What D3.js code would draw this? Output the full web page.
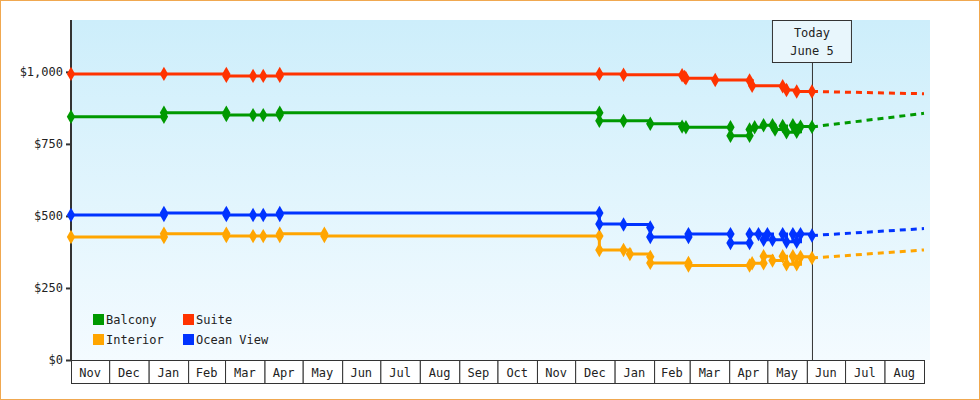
<!DOCTYPE html>
<html><head><meta charset="utf-8">
<script src="https://cdn.jsdelivr.net/npm/d3@7"></script>
<style>body{margin:0;background:#fff}text{font-family:"DejaVu Sans Mono",monospace;font-size:12px;fill:#222}</style>
</head><body><svg width="980" height="400"></svg>
<script>
const yTicks = [0, 250, 500, 750, 1000];
const today = "2025-06-05";
const forecastEnd = "2025-09-01";
const seriesNames = ["Balcony", "Suite", "Interior", "Ocean View"];
const colors = { "Balcony": "#009900", "Suite": "#ff3300", "Interior": "#ffa500", "Ocean View": "#0033ff" };

const suite = [
  ["2023-11-01", 993], ["2024-01-13", 993], ["2024-03-02", 993], ["2024-03-02", 986], ["2024-03-23", 986],
  ["2024-03-31", 986], ["2024-04-13", 986], ["2024-04-13", 993], ["2024-12-20", 993], ["2025-01-08", 990],
  ["2025-02-23", 988], ["2025-02-25", 982], ["2025-02-26", 978], ["2025-03-21", 972], ["2025-04-17", 970],
  ["2025-04-19", 952], ["2025-05-13", 950], ["2025-05-16", 937], ["2025-05-24", 932], ["2025-06-05", 932]];
const balcony = [
  ["2023-11-01", 844], ["2024-01-13", 844], ["2024-01-13", 858], ["2024-03-02", 858], ["2024-03-02", 850],
  ["2024-03-23", 850], ["2024-03-31", 850], ["2024-04-13", 850], ["2024-04-13", 858], ["2024-12-20", 858],
  ["2024-12-20", 830], ["2025-01-08", 830], ["2025-01-29", 820], ["2025-02-23", 810], ["2025-02-26", 808],
  ["2025-04-02", 808], ["2025-04-02", 778], ["2025-04-17", 778], ["2025-04-17", 800], ["2025-04-21", 808],
  ["2025-04-28", 815], ["2025-05-05", 815], ["2025-05-07", 800], ["2025-05-13", 812], ["2025-05-16", 790],
  ["2025-05-21", 815], ["2025-05-24", 792], ["2025-05-27", 810], ["2025-06-05", 809]];
const oceanView = [
  ["2023-11-01", 503], ["2024-01-13", 503], ["2024-01-13", 510], ["2024-03-02", 510], ["2024-03-02", 503],
  ["2024-03-23", 503], ["2024-03-31", 503], ["2024-04-13", 503], ["2024-04-13", 510], ["2024-12-20", 510],
  ["2024-12-20", 472], ["2025-01-08", 470], ["2025-01-29", 460], ["2025-01-29", 427], ["2025-02-28", 427],
  ["2025-02-28", 437], ["2025-04-02", 437], ["2025-04-02", 406], ["2025-04-17", 406], ["2025-04-17", 437],
  ["2025-04-24", 437], ["2025-04-28", 417], ["2025-05-01", 437], ["2025-05-05", 417], ["2025-05-13", 437],
  ["2025-05-16", 410], ["2025-05-21", 437], ["2025-05-24", 410], ["2025-05-27", 437], ["2025-06-05", 432]];
const interior = [
  ["2023-11-01", 427], ["2024-01-13", 427], ["2024-01-13", 438], ["2024-03-02", 438], ["2024-03-02", 430],
  ["2024-03-23", 430], ["2024-03-31", 430], ["2024-04-13", 430], ["2024-04-13", 438], ["2024-05-18", 438],
  ["2024-05-18", 430], ["2024-12-20", 430], ["2024-12-20", 382], ["2025-01-08", 382], ["2025-01-13", 368],
  ["2025-01-29", 358], ["2025-01-29", 337], ["2025-02-28", 337], ["2025-02-28", 328], ["2025-04-17", 328],
  ["2025-04-19", 336], ["2025-04-28", 336], ["2025-04-28", 360], ["2025-05-05", 345], ["2025-05-13", 360],
  ["2025-05-16", 332], ["2025-05-21", 360], ["2025-05-24", 332], ["2025-05-27", 358], ["2025-06-05", 354]];
const forecast = { "Balcony": 856, "Suite": 924, "Interior": 382, "Ocean View": 456 };
const data = { "Balcony": balcony, "Suite": suite, "Interior": interior, "Ocean View": oceanView };

const parse = d3.timeParse("%Y-%m-%d");
const svg = d3.select("svg");
const pLeft = 71, pRight = 930, pTop = 20, pBottom = 360;
const x = d3.scaleTime().domain([parse("2023-11-01"), parse(forecastEnd)]).range([pLeft, 924]);
const y = d3.scaleLinear().domain([0, 1180]).range([pBottom, pTop]);

svg.append("rect").attr("x", 0.5).attr("y", 0.5).attr("width", 979).attr("height", 399)
  .attr("fill", "#fff").attr("stroke", "#f0a850");

const grad = svg.append("defs").append("linearGradient").attr("id", "bg")
  .attr("x1", 0).attr("y1", 0).attr("x2", 0).attr("y2", 1);
grad.append("stop").attr("offset", 0).attr("stop-color", "#cdeefb");
grad.append("stop").attr("offset", 1).attr("stop-color", "#f4fbff");
svg.append("rect").attr("x", pLeft).attr("y", pTop).attr("width", pRight - pLeft).attr("height", pBottom - pTop)
  .attr("fill", "url(#bg)");

// month boxes
const months = d3.timeMonth.range(parse("2023-11-01"), parse(forecastEnd));
const mg = svg.append("g");
mg.selectAll("rect").data(months).join("rect")
  .attr("x", d => x(d) + 0.5).attr("y", pBottom + 0.5)
  .attr("width", d => x(d3.timeMonth.offset(d, 1)) - x(d)).attr("height", 23)
  .attr("fill", "#fff").attr("stroke", "#333");
mg.selectAll("text").data(months).join("text")
  .attr("x", d => (x(d) + x(d3.timeMonth.offset(d, 1))) / 2).attr("y", pBottom + 17)
  .attr("text-anchor", "middle").text(d3.timeFormat("%b"));

// y axis
const yAxis = svg.append("g").attr("transform", `translate(${pLeft},0)`)
  .call(d3.axisLeft(y).tickValues(yTicks).tickSize(5).tickFormat(d => "$" + d3.format(",")(d)));
yAxis.select(".domain").attr("d", `M0,${pTop}V${pBottom}`).attr("stroke", "#333").attr("stroke-width", 2);
yAxis.selectAll(".tick line").attr("stroke", "#333").attr("stroke-width", 2);
yAxis.selectAll("text").style("font-size", "12px").attr("fill", "#333");

// today marker
const tx = x(parse(today));
svg.append("line").attr("x1", tx + 0.5).attr("x2", tx + 0.5).attr("y1", 63).attr("y2", pBottom).attr("stroke", "#333");
svg.append("rect").attr("x", tx - 39.5).attr("y", 20.5).attr("width", 79).attr("height", 42)
  .attr("fill", "#e8f6fc").attr("stroke", "#333");
svg.append("text").attr("x", tx).attr("y", 37).attr("text-anchor", "middle").text("Today");
svg.append("text").attr("x", tx).attr("y", 55).attr("text-anchor", "middle").text("June 5");

const line = d3.line().curve(d3.curveStepAfter).x(d => x(parse(d[0]))).y(d => y(d[1]));
const diamond = d3.symbol().type(d3.symbolDiamond).size(60);
seriesNames.forEach(name => {
  const pts = data[name], c = colors[name];
  const last = pts[pts.length - 1];
  svg.append("path").datum([last, [forecastEnd, forecast[name]]])
    .attr("d", d3.line().x(d => x(parse(d[0]))).y(d => y(d[1])))
    .attr("fill", "none").attr("stroke", c).attr("stroke-width", 3).attr("stroke-dasharray", "6,5");
  svg.append("path").datum(pts).attr("d", line).attr("fill", "none").attr("stroke", c).attr("stroke-width", 3);
  svg.append("g").selectAll("path").data(pts).join("path")
    .attr("transform", d => `translate(${x(parse(d[0]))},${y(d[1])})`)
    .attr("d", diamond).attr("fill", c);
});

// legend
const lg = svg.append("g").selectAll("g").data(seriesNames).join("g")
  .attr("transform", (d, i) => `translate(${93 + (i % 2) * 90},${314 + Math.floor(i / 2) * 20})`);
lg.append("rect").attr("width", 11).attr("height", 11).attr("fill", d => colors[d]);
lg.append("text").attr("x", 13).attr("y", 10).text(d => d);
</script></body></html>
